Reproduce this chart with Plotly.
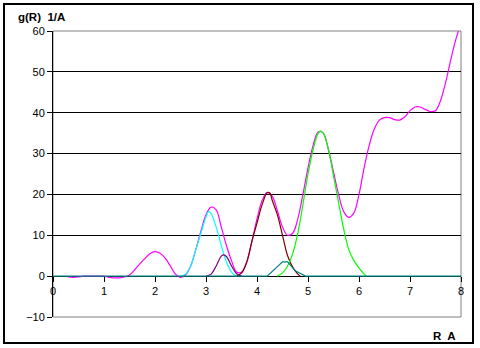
import plotly.graph_objects as go

# Total g(R) (magenta)
r_total = [0.3, 0.4, 0.5, 0.6, 0.7, 0.8, 0.9, 1.0, 1.1, 1.2, 1.3, 1.4, 1.5, 1.6, 1.7, 1.8, 1.9,
           2.0, 2.1, 2.2, 2.3, 2.4, 2.5, 2.6, 2.7, 2.8, 2.9, 3.0, 3.1, 3.2, 3.3, 3.4, 3.5, 3.6,
           3.7, 3.8, 3.9, 4.0, 4.1, 4.2, 4.3, 4.4, 4.5, 4.6, 4.7, 4.8, 4.9, 5.0, 5.1, 5.2, 5.3,
           5.4, 5.5, 5.6, 5.7, 5.8, 5.9, 6.0, 6.1, 6.2, 6.3, 6.4, 6.5, 6.6, 6.7, 6.8, 6.9, 7.0,
           7.1, 7.2, 7.3, 7.4, 7.5, 7.6, 7.7, 7.8, 7.9, 7.95]
g_total = [-0.2, -0.3, -0.2, 0.0, 0.0, 0.0, 0.0, 0.0, -0.3, -0.4, -0.4, -0.2, 0.3, 1.5, 3.0, 4.3, 5.5,
           6.0, 5.6, 4.4, 2.5, 0.5, -0.3, 0.3, 2.5, 6.5, 11.0, 15.0, 16.9, 16.2, 12.0, 7.5, 3.8, 1.0,
           1.0, 3.5, 8.5, 14.0, 18.5, 20.5, 19.5, 16.0, 12.0, 10.0, 10.5, 14.0, 20.0, 26.5, 32.0, 35.3, 35.0,
           31.0, 25.5, 20.0, 15.8, 14.4, 15.5, 20.0, 26.5, 32.0, 36.0, 38.2, 38.8, 38.8, 38.3, 38.2, 39.0, 40.5,
           41.4, 41.4, 40.8, 40.3, 40.5, 43.0, 47.5, 53.0, 58.0, 60.0]

# Cyan partial
r_cyan = [2.5, 2.6, 2.7, 2.8, 2.9, 3.0, 3.05, 3.1, 3.2, 3.3, 3.4, 3.5, 3.6]
g_cyan = [0.0, 0.5, 2.5, 6.5, 10.5, 14.5, 15.8, 15.3, 12.0, 7.5, 3.5, 1.0, 0.0]

# Purple partial
r_purple = [3.0, 3.1, 3.2, 3.3, 3.35, 3.4, 3.5, 3.6, 3.7]
g_purple = [0.0, 0.5, 2.5, 4.9, 5.2, 4.8, 2.5, 0.6, 0.0]

# Dark red partial
r_brown = [3.6, 3.7, 3.8, 3.9, 4.0, 4.1, 4.2, 4.25, 4.3, 4.4, 4.5, 4.6, 4.7, 4.8, 4.85]
g_brown = [0.0, 0.8, 3.5, 8.5, 13.0, 17.5, 20.4, 20.4, 18.5, 15.0, 10.0, 5.0, 2.2, 0.5, 0.0]

# Green partial
r_green = [4.4, 4.5, 4.6, 4.7, 4.8, 4.9, 5.0, 5.1, 5.2, 5.25, 5.3, 5.4, 5.5, 5.6, 5.7, 5.8, 5.9, 6.0, 6.1, 6.15]
g_green = [0.0, 0.8, 2.5, 5.5, 10.5, 17.5, 25.0, 31.0, 35.0, 35.5, 35.0, 31.0, 24.5, 18.0, 11.5, 6.5, 3.8, 2.0, 0.5, 0.0]

# Teal partial
r_teal = [0.0, 4.2, 4.5, 4.6, 4.75, 4.95, 8.0]
g_teal = [0.0, 0.0, 3.5, 3.5, 1.3, 0.0, 0.0]

x_ticks = [0, 1, 2, 3, 4, 5, 6, 7, 8]
y_ticks = [-10, 0, 10, 20, 30, 40, 50, 60]

fig = go.Figure()
series = [
    (r_total, g_total, "#FF00FF", "spline"),
    (r_cyan, g_cyan, "#00FFFF", "spline"),
    (r_purple, g_purple, "#800080", "spline"),
    (r_brown, g_brown, "#800000", "spline"),
    (r_green, g_green, "#00FF00", "spline"),
    (r_teal, g_teal, "#008080", "linear"),
]
for xs, ys, col, shape in series:
    fig.add_trace(go.Scatter(x=xs, y=ys, mode="lines",
                             line=dict(color=col, width=1.2, shape=shape),
                             showlegend=False, hoverinfo="skip"))

fig.update_layout(
    width=480, height=348,
    margin=dict(l=53, r=19, t=31, b=31),
    paper_bgcolor="white", plot_bgcolor="white",
    font=dict(family="Liberation Sans, Arial, sans-serif", size=11, color="black"),
    xaxis=dict(range=[0, 8], tickvals=x_ticks, showgrid=False, zeroline=False,
               showline=True, linecolor="black", linewidth=1,
               ticks="outside", ticklen=5, tickcolor="black",
               anchor="free", position=1/7, fixedrange=True, layer="below traces"),
    yaxis=dict(range=[-10, 60], tickvals=y_ticks, showgrid=True, gridcolor="black",
               gridwidth=1, zeroline=False, showline=True, linecolor="black",
               linewidth=1, ticks="outside", ticklen=5, tickcolor="black",
               fixedrange=True, layer="above traces"),
    shapes=[
        dict(type="rect", xref="paper", yref="paper", x0=0, x1=1, y0=0, y1=1,
             line=dict(color="#808080", width=1), layer="between"),
        dict(type="rect", xref="paper", yref="paper",
             x0=(4 - 53) / 408, x1=(473 - 53) / 408,
             y0=(317 - 343) / 286, y1=(317 - 4) / 286,
             line=dict(color="black", width=2), layer="above"),
    ],
    annotations=[
        dict(text="<b>g(R)  1/A</b>", xref="paper", yref="paper",
             x=(16 - 53) / 408, y=(317 - 17) / 286, xanchor="left", yanchor="middle",
             showarrow=False, font=dict(size=11.5)),
        dict(text="<b>R  A</b>", xref="paper", yref="paper",
             x=(458 - 53) / 408, y=(317 - 336) / 286, xanchor="right", yanchor="middle",
             showarrow=False, font=dict(size=11.5)),
    ],
)

fig.write_html("out.html")
